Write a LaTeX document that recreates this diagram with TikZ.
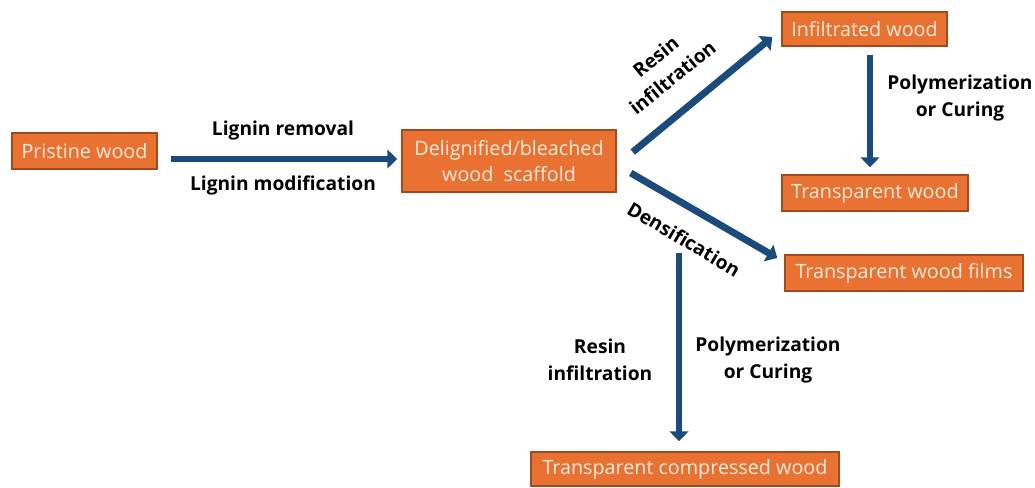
\documentclass[tikz,border=0pt]{standalone}
\usepackage{fontspec}
\setmainfont{Open Sans}
\usetikzlibrary{arrows.meta,calc}
\definecolor{boxfill}{HTML}{E97132}
\definecolor{boxline}{HTML}{A04A1E}
\definecolor{boxtext}{HTML}{FDEBDD}
\definecolor{arrblue}{HTML}{1B4B7C}
\tikzset{
  wbox/.style={draw=boxline, line width=1.1pt, fill=boxfill, text=boxtext, inner sep=0pt,
    font=\fontsize{14.8}{19.5}\selectfont, align=center},
  arr/.style={draw=arrblue, line width=5.2pt,
    -{Triangle[width=14pt,length=7.5pt]}},
  lbl/.style={font=\fontsize{14.4}{20}\selectfont\bfseries, align=center, text=black, inner sep=0pt}
}
\begin{document}
\begin{tikzpicture}[x=0.75pt,y=-0.75pt]
\useasboundingbox[fill=white] (0,0) rectangle (1035,487);
% boxes
\node[wbox, minimum width=145*0.75pt, minimum height=36*0.75pt] (pw) at (84.5,151) {Pristine wood};
\node[wbox, minimum width=214*0.75pt, minimum height=62*0.75pt] (dw) at (509,161) {Delignified/bleached\\wood~ scaffold};
\node[wbox, minimum width=165*0.75pt, minimum height=34*0.75pt] (iw) at (864.5,29) {Infiltrated wood};
\node[wbox, minimum width=186*0.75pt, minimum height=36*0.75pt] (tw) at (875,193) {Transparent wood};
\node[wbox, minimum width=238*0.75pt, minimum height=36*0.75pt] (tf) at (904,273) {Transparent wood films};
\node[wbox, minimum width=308*0.75pt, minimum height=34*0.75pt] (tc) at (685,469) {Transparent compressed wood};
\coordinate (vs) at (679,253);
% arrows
\draw[arr] ($(pw.east |- dw.west)+(13,-2)$) -- ($(dw.west)+(-4,-2)$);
\draw[arr] ($(dw.east)+(16,-9)$) -- ($(iw.west)+(-9,8)$);
\draw[arr] ($(dw.east)+(14,12)$) -- ($(tf.west)+(-7,-15)$);
\draw[arr] ($(iw.south)+(5.5,8)$) -- ($(tw.north)+(-5,-7)$);
\draw[arr] (vs) -- ($(tc.north)+(-6,-10)$);
% labels
\node[lbl] (l1) at (283,131) {Lignin removal};
\node[lbl] (l2) at (283,185) {Lignin modification};
\node[lbl, rotate=39] (l3) at (664,67) {Resin\\infiltration};
\node[lbl, rotate=-30.5] (l4) at (684,239) {Densification};
\node[lbl] (l5) at (960,98) {Polymerization\\or Curing};
\node[lbl] (l6) at (600,360) {Resin\\infiltration};
\node[lbl] (l7) at (768,360) {Polymerization\\or Curing};
\end{tikzpicture}
\end{document}
